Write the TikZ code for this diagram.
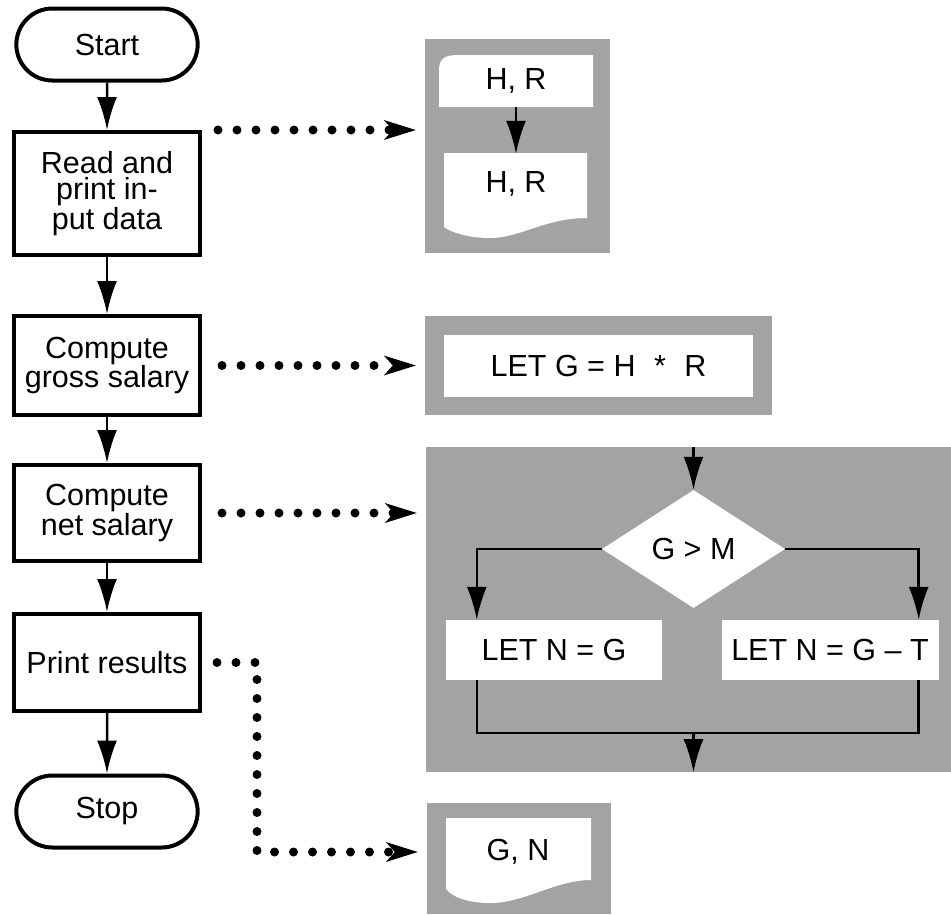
\documentclass[tikz,border=0pt]{standalone}
\usepackage{fontspec}
\setmainfont{Liberation Sans}
\usetikzlibrary{arrows.meta,shapes.geometric,shapes.misc,positioning}

\begin{document}
\begin{tikzpicture}[x=1pt,y=-1pt,
    every node/.style={font=\fontsize{30.5}{24}\selectfont},
    term/.style={rounded rectangle, draw, line width=4pt, minimum width=188pt, minimum height=72pt},
    proc/.style={rectangle, draw, line width=4pt, minimum width=186pt, inner sep=4pt, align=center},
    panel/.style={rectangle, fill=black!36, inner sep=0pt},
    card/.style={rectangle, fill=white, inner sep=0pt},
    flow/.style={line width=2.5pt, -{Latex[length=33pt,width=20pt]}},
    wire/.style={line width=2.5pt},
    dotline/.style={line width=9pt, line cap=round, dash pattern=on 0pt off 19pt,
        -{Stealth[length=32pt,width=20pt,inset=9pt,line width=0pt]}}]
    \useasboundingbox (0,0) rectangle (951,914);

    % flowchart
    \node[term] (start) at (107,44.5) {Start};
    \node[proc, minimum height=123pt, font=\fontsize{30.5}{26.5}\selectfont] (read) at (107,193.5) {Read and\\print in-\\put data};
    \node[proc, minimum height=99pt] (gross) at (107,365.5) {Compute\\gross salary};
    \node[proc, minimum height=96pt] (net) at (107,513) {Compute\\net salary};
    \node[proc, minimum height=97pt] (print) at (107,662.5) {Print results};
    \node[term] (stop) at (107,811.5) {Stop};
    \foreach \a/\b in {start/read, read/gross, gross/net, net/print, print/stop}
        \draw[flow] (\a) -- (\b);

    % shaded panels
    \node[panel, minimum width=185pt, minimum height=214pt] (p1) at (517.5,146) {};
    \node[panel, minimum width=347pt, minimum height=99pt] (p2) at (598.5,365.5) {};
    \node[panel, minimum width=525pt, minimum height=325pt] (p3) at (688.5,609.5) {};
    \node[panel, minimum width=184pt, minimum height=111pt] (p4) at (519,858.5) {};

    % read and print
    \fill[white] (439,107) -- (439,70) .. controls (439,58) and (446,55) .. (458,55) -- (593,55) -- (593,107) -- cycle;
    \node[minimum width=154pt, minimum height=52pt, inner sep=0pt] (hr1) at (516,81) {H, R};
    \fill[white] (444,153) -- (587,153) -- (587,218) .. controls (545,218) and (520,238) .. (490,238)
        .. controls (470,238) and (452,233) .. (444,227) -- cycle;
    \node[minimum width=143pt, minimum height=60pt, inner sep=0pt] (hr2) at (516,184) {H, R};
    \draw[flow] (hr1) -- (hr2);

    % gross salary
    \node[card, minimum width=309pt, minimum height=62pt] (gform) at (598.5,366) {LET G = H\hspace{10pt} *\hspace{10pt} R};

    % net salary
    \node[diamond, fill=white, inner sep=0pt, aspect=1.55, minimum width=183pt, minimum height=118pt] (cond) at (693.5,549) {G > M};
    \node[card, minimum width=216pt, minimum height=60pt] (nleft) at (554,650) {LET N = G};
    \node[card, minimum width=217pt, minimum height=60pt] (nright) at (830,650) {LET N = G -- T};
    \coordinate (join) at (693.5,733);
    \draw[flow] (cond |- p3.north) -- (cond.north);
    \draw[flow] (cond.west) -| ([xshift=31pt]nleft.north west);
    \draw[flow] (cond.east) -| ([xshift=-20pt]nright.north east);
    \draw[wire] ([xshift=31pt]nleft.south west) |- (join) -| ([xshift=-20pt]nright.south east);
    \draw[flow] (join) -- (cond |- p3.south);

    % print results
    \fill[white] (446,818) -- (591,818) -- (591,880) .. controls (555,880) and (525,903) .. (490,903)
        .. controls (468,903) and (452,897) .. (446,889) -- cycle;
    \node[minimum width=145pt, minimum height=60pt, inner sep=0pt] (gn) at (518,852) {G, N};

    % dotted links
    \draw[dotline] ([xshift=16pt]read.north east) -- ([xshift=-9pt]p1.west |- read.north east);
    \draw[dotline] ([xshift=20pt]gross.east) -- ([xshift=-9pt]p2.west |- gross.east);
    \draw[dotline] ([xshift=20pt]net.east) -- ([xshift=-9pt]p3.west |- net.east);
    \draw[dotline] ([xshift=15pt]print.east) -- ++(40pt,0pt) |- ([xshift=-9pt]p4.west |- gn);
\end{tikzpicture}
\end{document}
